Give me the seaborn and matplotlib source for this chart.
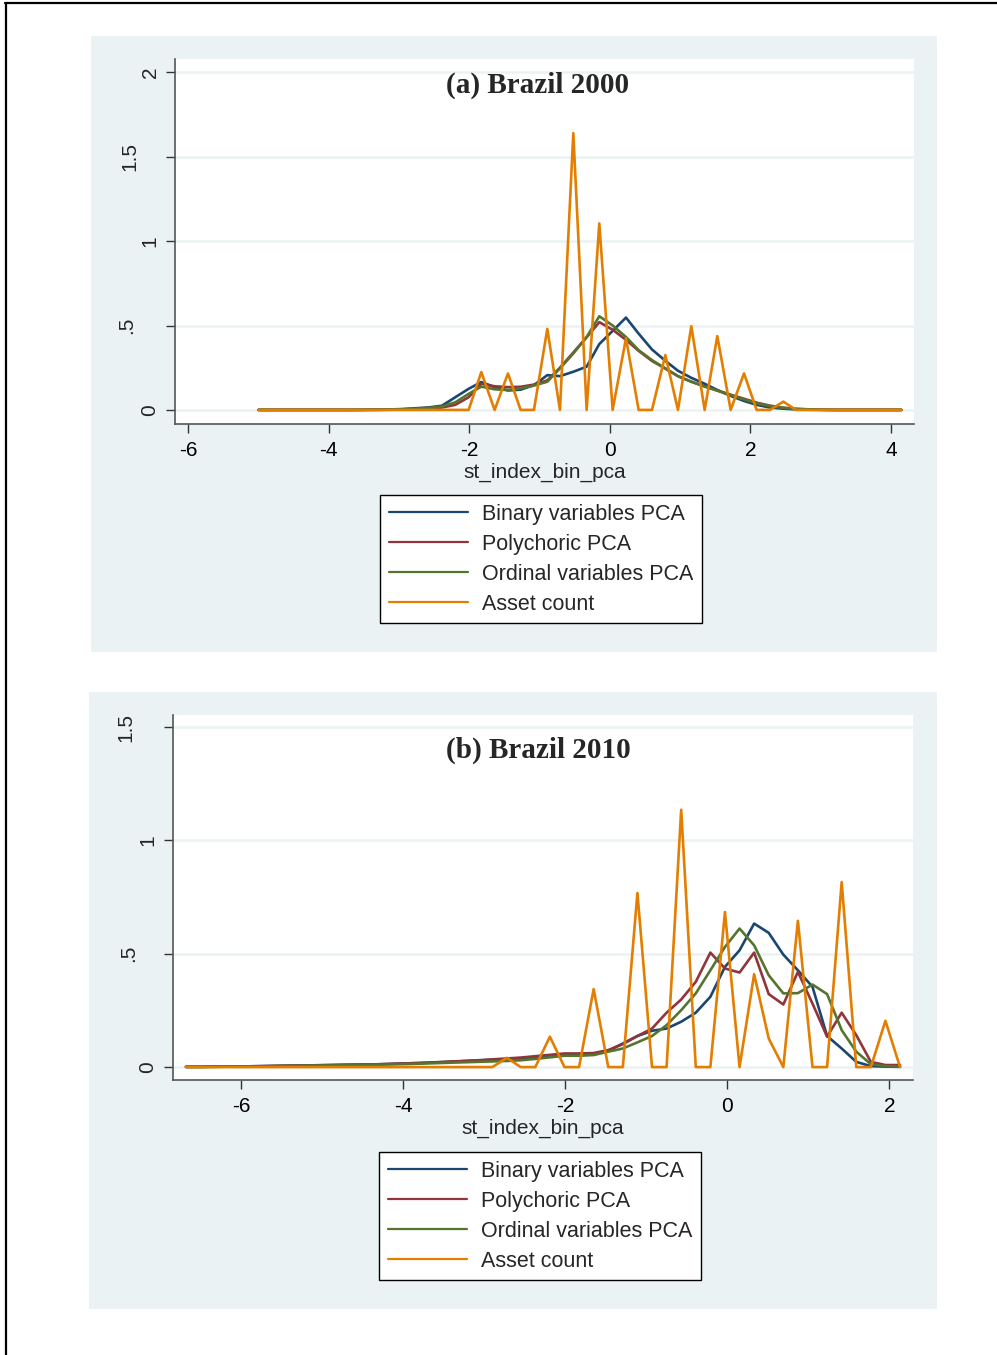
import pandas as pd
import seaborn as sns
import matplotlib.pyplot as plt
import matplotlib.transforms as mtransforms
from matplotlib.patches import Rectangle
from matplotlib.lines import Line2D

# Series names and Stata s2color colours
series = ["Binary variables PCA", "Polychoric PCA", "Ordinal variables PCA", "Asset count"]
colors = ["#1A476F", "#90353B", "#55752F", "#E37E00"]

# ---- (a) Brazil 2000 ----
x_2000 = [-5.00, -4.81, -4.63, -4.44, -4.25, -4.07, -3.88, -3.69, -3.51, -3.32,
          -3.13, -2.95, -2.76, -2.57, -2.39, -2.20, -2.01, -1.83, -1.64, -1.45,
          -1.27, -1.08, -0.89, -0.71, -0.52, -0.33, -0.15, 0.04, 0.23, 0.41,
          0.60, 0.79, 0.97, 1.16, 1.35, 1.53, 1.72, 1.91, 2.09, 2.28,
          2.47, 2.65, 2.84, 3.03, 3.21, 3.40, 3.59, 3.77, 3.96, 4.15]
binary_2000 = [0, 0, 0, 0, 0, 0, 0, 0, 0.001, 0.002,
               0.003, 0.005, 0.01, 0.015, 0.025, 0.075, 0.125, 0.165, 0.135, 0.115,
               0.12, 0.147, 0.206, 0.2, 0.226, 0.256, 0.39, 0.468, 0.547, 0.452,
               0.358, 0.291, 0.232, 0.19, 0.155, 0.118, 0.083, 0.053, 0.03, 0.014,
               0.007, 0.003, 0.001, 0, 0, 0, 0, 0, 0, 0]
polychoric_2000 = [0, 0, 0, 0, 0, 0, 0, 0, 0, 0,
                   0.001, 0.002, 0.004, 0.008, 0.014, 0.03, 0.075, 0.155, 0.14, 0.135,
                   0.137, 0.15, 0.175, 0.25, 0.34, 0.43, 0.52, 0.475, 0.415, 0.35,
                   0.29, 0.245, 0.2, 0.167, 0.14, 0.115, 0.09, 0.066, 0.043, 0.025,
                   0.013, 0.006, 0.003, 0.001, 0, 0, 0, 0, 0, 0]
ordinal_2000 = [0, 0, 0, 0, 0, 0, 0, 0, 0, 0.001,
                0.002, 0.004, 0.007, 0.012, 0.02, 0.045, 0.095, 0.138, 0.122, 0.118,
                0.128, 0.144, 0.167, 0.246, 0.334, 0.432, 0.555, 0.5, 0.432, 0.354,
                0.295, 0.246, 0.2, 0.167, 0.138, 0.114, 0.087, 0.062, 0.04, 0.022,
                0.012, 0.006, 0.003, 0.001, 0, 0, 0, 0, 0, 0]
asset_2000 = [0, 0, 0, 0, 0, 0, 0, 0, 0, 0,
              0, 0, 0, 0, 0, 0, 0, 0.224, 0, 0.216,
              0, 0, 0.48, 0, 1.64, 0, 1.105, 0, 0.425, 0,
              0, 0.325, 0, 0.496, 0, 0.437, 0, 0.216, 0, 0,
              0.049, 0, 0, 0, 0, 0, 0, 0, 0, 0]

# ---- (b) Brazil 2010 ----
x_2010 = [-6.68, -6.50, -6.32, -6.14, -5.96, -5.78, -5.60, -5.42, -5.24, -5.06,
          -4.88, -4.70, -4.52, -4.34, -4.16, -3.98, -3.80, -3.62, -3.44, -3.26,
          -3.08, -2.90, -2.72, -2.55, -2.37, -2.19, -2.01, -1.83, -1.65, -1.47,
          -1.29, -1.11, -0.93, -0.75, -0.57, -0.39, -0.21, -0.03, 0.15, 0.33,
          0.51, 0.69, 0.87, 1.05, 1.23, 1.41, 1.59, 1.77, 1.95, 2.13]
binary_2010 = [0.001, 0.001, 0.002, 0.002, 0.003, 0.004, 0.005, 0.006, 0.007, 0.008,
               0.009, 0.01, 0.011, 0.012, 0.014, 0.016, 0.018, 0.02, 0.023, 0.026,
               0.029, 0.032, 0.035, 0.038, 0.045, 0.05, 0.055, 0.057, 0.058, 0.072,
               0.104, 0.137, 0.16, 0.17, 0.2, 0.24, 0.31, 0.442, 0.515, 0.633,
               0.592, 0.496, 0.427, 0.354, 0.137, 0.082, 0.023, 0.004, 0.002, 0.001]
polychoric_2010 = [0.001, 0.001, 0.002, 0.002, 0.003, 0.004, 0.005, 0.006, 0.007, 0.008,
                   0.009, 0.01, 0.011, 0.012, 0.014, 0.016, 0.018, 0.021, 0.024, 0.027,
                   0.03, 0.034, 0.038, 0.042, 0.048, 0.054, 0.06, 0.06, 0.062, 0.075,
                   0.101, 0.137, 0.17, 0.24, 0.298, 0.376, 0.505, 0.435, 0.417, 0.505,
                   0.322, 0.276, 0.42, 0.28, 0.134, 0.24, 0.141, 0.023, 0.009, 0.009]
ordinal_2010 = [0.001, 0.001, 0.001, 0.002, 0.002, 0.003, 0.004, 0.005, 0.006, 0.007,
                0.008, 0.009, 0.01, 0.011, 0.012, 0.013, 0.015, 0.017, 0.019, 0.021,
                0.023, 0.025, 0.027, 0.03, 0.036, 0.043, 0.05, 0.05, 0.053, 0.068,
                0.082, 0.109, 0.137, 0.185, 0.251, 0.325, 0.427, 0.53, 0.611, 0.537,
                0.405, 0.325, 0.326, 0.364, 0.322, 0.163, 0.068, 0.013, 0.004, 0.002]
asset_2010 = [0, 0, 0, 0, 0, 0, 0, 0, 0, 0,
              0, 0, 0, 0, 0, 0, 0, 0, 0, 0,
              0, 0, 0.041, 0, 0, 0.134, 0, 0, 0.344, 0,
              0, 0.768, 0, 0, 1.135, 0, 0, 0.684, 0, 0.41,
              0.126, 0, 0.645, 0, 0, 0.816, 0, 0, 0.204, 0]


def long_frame(x, cols):
    parts = []
    for name, vals in zip(series, cols):
        parts.append(pd.DataFrame({"x": x, "density": vals, "series": name}))
    return pd.concat(parts, ignore_index=True)


df_2000 = long_frame(x_2000, [binary_2000, polychoric_2000, ordinal_2000, asset_2000])
df_2010 = long_frame(x_2010, [binary_2010, polychoric_2010, ordinal_2010, asset_2010])

sns.set_theme(style="white")
plt.rcParams["font.family"] = ["Liberation Sans", "DejaVu Sans"]

W, H = 997, 1355
fig = plt.figure(figsize=(W / 100, H / 100), dpi=100)
fig.patch.set_facecolor("white")


def fx(px):
    return px / W


def fy(py):
    return 1 - py / H


panels = [
    dict(df=df_2000, title="(a) Brazil 2000", bg=(91, 36, 937, 652), box=(175, 59, 914, 424),
         xlim=(-6.19, 4.33), ylim=(-0.0835, 2.079), xticks=[-6, -4, -2, 0, 2, 4],
         yticks=[0, 0.5, 1, 1.5, 2], ylabels=["0", ".5", "1", "1.5", "2"],
         ylab_x=[150, 127, 150, 130, 150], title_y=85, legend_at=(380, 495)),
    dict(df=df_2010, title="(b) Brazil 2010", bg=(89, 692, 937, 1309), box=(173, 715, 913, 1080),
         xlim=(-6.84, 2.29), ylim=(-0.057, 1.553), xticks=[-6, -4, -2, 0, 2],
         yticks=[0, 0.5, 1, 1.5], ylabels=["0", ".5", "1", "1.5"],
         ylab_x=[148, 129, 148, 126], title_y=750, legend_at=(379, 1152)),
]

for p in panels:
    x0, y0, x1, y1 = p["bg"]
    fig.add_artist(Rectangle((fx(x0), fy(y1)), fx(x1 - x0), (y1 - y0) / H,
                             transform=fig.transFigure, facecolor="#EAF2F3",
                             edgecolor="none", zorder=0))
    l, t, r, b = p["box"]
    ax = fig.add_axes([fx(l), fy(b), fx(r - l), (b - t) / H])
    ax.set_facecolor("white")

    sns.lineplot(data=p["df"], x="x", y="density", hue="series", hue_order=series,
                 palette=colors, estimator=None, sort=False, linewidth=1.9,
                 legend=False, ax=ax)

    ax.set_xlim(*p["xlim"])
    ax.set_ylim(*p["ylim"])
    ax.set_xticks(p["xticks"])
    ax.set_xticklabels([str(v) for v in p["xticks"]])
    ax.set_yticks(p["yticks"])
    ax.yaxis.grid(True, color="#EAF2F3", linewidth=1.8)
    ax.xaxis.grid(False)
    ax.set_axisbelow(True)
    ax.tick_params(axis="x", length=6.3, width=1, color="#333333", pad=6,
                   labelsize=15, labelcolor="black", bottom=True)
    ax.tick_params(axis="y", length=6.5, width=1, color="#333333",
                   labelleft=False, left=True)
    ax.set_xlabel("st_index_bin_pca", fontsize=15, labelpad=2)
    ax.set_ylabel("")
    for side in ["top", "right"]:
        ax.spines[side].set_visible(False)
    for side in ["left", "bottom"]:
        ax.spines[side].set_color("#555555")
        ax.spines[side].set_linewidth(1.2)

    # Stata-style rotated y labels
    trans = mtransforms.blended_transform_factory(fig.transFigure, ax.transData)
    for val, lab, px in zip(p["yticks"], p["ylabels"], p["ylab_x"]):
        fig.text(fx(px), val, lab, transform=trans, rotation=90, fontsize=15,
                 ha="center", va="center")

    fig.text(fx(538), fy(p["title_y"]), p["title"], fontsize=21, fontweight="bold",
             family=["Liberation Serif", "DejaVu Serif"], ha="center", va="center")

    lx, ly = p["legend_at"]
    leg = fig.legend(ax.lines[:4], series, loc="upper left",
                     bbox_to_anchor=(fx(lx), fy(ly)), bbox_transform=fig.transFigure,
                     frameon=True, fancybox=False, edgecolor="black", facecolor="white",
                     framealpha=1, fontsize=15.5, handlelength=3.67, handletextpad=0.65,
                     labelspacing=0.42, borderpad=0.4, borderaxespad=0)
    leg.get_frame().set_linewidth(1.0)
    for h in leg.get_lines():
        h.set_linewidth(1.6)

# outer frame (left and top edges)
fig.add_artist(Line2D([fx(6), fx(6)], [fy(3), 0], transform=fig.transFigure,
                      color="black", linewidth=1.6))
fig.add_artist(Line2D([fx(5), 1], [fy(3), fy(3)], transform=fig.transFigure,
                      color="black", linewidth=1.6))

plt.savefig("out.png", dpi=100)
